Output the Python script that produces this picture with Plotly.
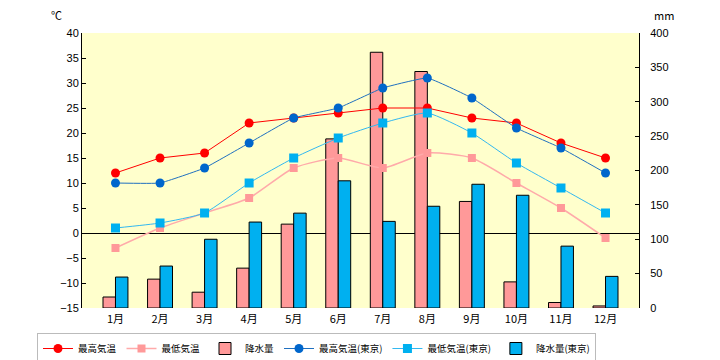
import plotly.graph_objects as go

months = ["1月", "2月", "3月", "4月", "5月", "6月", "7月", "8月", "9月", "10月", "11月", "12月"]
max_temp = [12, 15, 16, 22, 23, 24, 25, 25, 23, 22, 18, 15]
min_temp = [-3, 1, 4, 7, 13, 15, 13, 16, 15, 10, 5, -1]
precip = [16, 42, 23, 58, 122, 246, 372, 344, 155, 38, 8, 3]
tokyo_max = [10, 10, 13, 18, 23, 25, 29, 31, 27, 21, 17, 12]
tokyo_min = [1, 2, 4, 10, 15, 19, 22, 24, 20, 14, 9, 4]
tokyo_precip = [45, 61, 100, 125, 138, 185, 126, 148, 180, 164, 90, 46]

temp_ticks = list(range(-15, 41, 5))
mm_ticks = list(range(0, 401, 50))

fig = go.Figure()

# Bars on primary axis (right side), drawn underneath the lines
fig.add_trace(go.Bar(x=months, y=precip, name="降水量", yaxis="y",
                     marker=dict(color="#FF9999", line=dict(color="black", width=1)),
                     legendrank=3))
fig.add_trace(go.Bar(x=months, y=tokyo_precip, name="降水量(東京)", yaxis="y",
                     marker=dict(color="#00B0F0", line=dict(color="black", width=1)),
                     legendrank=6))

# Temperature lines on overlay axis (left side)
fig.add_trace(go.Scatter(x=months, y=max_temp, name="最高気温", yaxis="y2",
                         mode="lines+markers",
                         line=dict(color="#FF0000", width=1),
                         marker=dict(color="#FF0000", size=9, symbol="circle"),
                         legendrank=1))
fig.add_trace(go.Scatter(x=months, y=min_temp, name="最低気温", yaxis="y2",
                         mode="lines+markers",
                         line=dict(color="#FFAAAA", width=1.5, shape="spline", smoothing=0.6),
                         marker=dict(color="#FF9999", size=8, symbol="square"),
                         legendrank=2))
fig.add_trace(go.Scatter(x=months, y=tokyo_max, name="最高気温(東京)", yaxis="y2",
                         mode="lines+markers",
                         line=dict(color="#1F70C0", width=1, shape="spline", smoothing=0.3),
                         marker=dict(color="#0066CC", size=9, symbol="circle"),
                         legendrank=4))
fig.add_trace(go.Scatter(x=months, y=tokyo_min, name="最低気温(東京)", yaxis="y2",
                         mode="lines+markers",
                         line=dict(color="#33B8F0", width=1, shape="spline", smoothing=0.5),
                         marker=dict(color="#00B0F0", size=9, symbol="square"),
                         legendrank=5))

# page body adds an 8px offset; figure is sized/margined to compensate
fig.update_layout(
    width=712, height=352,
    margin=dict(l=74, r=81, t=25, b=52, autoexpand=False),
    paper_bgcolor="white",
    plot_bgcolor="#FFFFCC",
    barmode="group", bargap=0.44, bargroupgap=0,
    font=dict(family="Noto Sans CJK JP, Liberation Sans", size=11, color="black"),
    xaxis=dict(showgrid=False, showline=False, ticks="", zeroline=False,
               ticklabelstandoff=3, tickfont=dict(size=11)),
    yaxis=dict(side="right", range=[0, 400], tickvals=mm_ticks,
               showgrid=False, zeroline=False, showline=True, linecolor="black", linewidth=1,
               ticks="inside", ticklen=4, tickcolor="black",
               ticklabelstandoff=8,
               tickfont=dict(family="Liberation Sans", size=11)),
    yaxis2=dict(side="left", overlaying="y", range=[-15, 40], tickvals=temp_ticks,
                showgrid=False, zeroline=True, zerolinecolor="black", zerolinewidth=1,
                showline=True, linecolor="black", linewidth=1,
                ticks="inside", ticklen=4, tickcolor="black",
                tickfont=dict(family="Liberation Sans", size=11)),
    legend=dict(orientation="h", x=(37 - 82) / 557, y=-(333 - 308) / 275,
                xanchor="left", yanchor="top",
                bgcolor="white", bordercolor="#BBBBBB", borderwidth=1,
                font=dict(size=9.5), itemwidth=30, tracegroupgap=0),
    showlegend=True,
    annotations=[
        dict(text="℃", x=(56 - 82) / 557, y=(308 - 15) / 275, xref="paper", yref="paper",
             xanchor="center", yanchor="middle", showarrow=False, font=dict(size=11)),
        dict(text="mm", x=(664 - 82) / 557, y=(308 - 15) / 275, xref="paper", yref="paper",
             xanchor="center", yanchor="middle", showarrow=False, font=dict(size=11)),
    ],
)

fig.write_html("out.html")
